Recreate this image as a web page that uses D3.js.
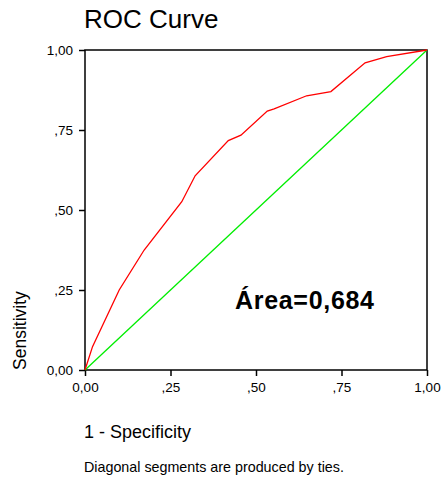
<!DOCTYPE html>
<html>
<head>
<meta charset="utf-8">
<script src="https://cdn.jsdelivr.net/npm/d3@7"></script>
<style>
  body { margin: 0; background: #fff; }
  text { font-family: "Liberation Sans", Arial, sans-serif; }
</style>
</head>
<body>
<svg width="441" height="481"></svg>
<script>
// ROC curve points (1 - specificity, sensitivity)
var fpr = [0, 0.022, 0.10, 0.173, 0.283, 0.322, 0.419, 0.456, 0.533, 0.553, 0.648, 0.719, 0.819, 0.882, 1];
var tpr = [0, 0.073, 0.25, 0.375, 0.526, 0.607, 0.717, 0.734, 0.809, 0.816, 0.857, 0.870, 0.960, 0.979, 1];
var refLine = [0, 1];
var tickVals = [0, 0.25, 0.5, 0.75, 1];
var tickLabels = ["0,00", ",25", ",50", ",75", "1,00"];
var areaLabel = "Área=0,684";

var margin = {top: 50, right: 14, bottom: 111, left: 85},
    width = 441 - margin.left - margin.right,
    height = 481 - margin.top - margin.bottom;

var svg = d3.select("svg");
var g = svg.append("g")
    .attr("transform", "translate(" + margin.left + "," + margin.top + ")");

var x = d3.scaleLinear().domain([0, 1]).range([0, width]);
var y = d3.scaleLinear().domain([0, 1]).range([height, 0]);

// frame
g.append("rect")
    .attr("x", 0).attr("y", 0)
    .attr("width", width).attr("height", height)
    .attr("fill", "none").attr("stroke", "#000").attr("stroke-width", 1.5);

var xAxis = g.append("g")
    .attr("transform", "translate(0," + height + ")")
    .call(d3.axisBottom(x).tickValues(tickVals).tickSize(6).tickPadding(6)
        .tickFormat(function(d, i) { return tickLabels[i]; }));
var yAxis = g.append("g")
    .call(d3.axisLeft(y).tickValues(tickVals).tickSize(6).tickPadding(6)
        .tickFormat(function(d, i) { return tickLabels[i]; }));

[xAxis, yAxis].forEach(function(a) {
    a.select(".domain").remove();
    a.selectAll("line").attr("stroke", "#000").attr("stroke-width", 1.5);
    a.selectAll("text").style("font-size", "13.5px").attr("fill", "#000")
        .style("font-family", "'Liberation Sans', Arial, sans-serif");
});

// reference diagonal
g.append("path")
    .datum(refLine)
    .attr("d", d3.line().x(function(d) { return x(d); }).y(function(d) { return y(d); }))
    .attr("fill", "none").attr("stroke", "#00ee00").attr("stroke-width", 1.3);

// ROC curve
g.append("path")
    .datum(fpr.map(function(v, i) { return [v, tpr[i]]; }))
    .attr("d", d3.line().x(function(d) { return x(d[0]); }).y(function(d) { return y(d[1]); }))
    .attr("fill", "none").attr("stroke", "#ff0000").attr("stroke-width", 1.3);

// texts
svg.append("text").attr("x", 84).attr("y", 28)
    .style("font-size", "26px").text("ROC Curve");

svg.append("text").attr("x", 235).attr("y", 309)
    .style("font-size", "25px").style("font-weight", "bold")
    .attr("textLength", 139).text(areaLabel);

svg.append("text")
    .attr("transform", "translate(26," + (margin.top + height) + ") rotate(-90)")
    .style("font-size", "17.5px").text("Sensitivity");

svg.append("text").attr("x", 84).attr("y", 472)
    .style("font-size", "14.3px").text("Diagonal segments are produced by ties.");

svg.append("text").attr("x", 84).attr("y", 438)
    .style("font-size", "18px").text("1 - Specificity");
</script>
</body>
</html>
